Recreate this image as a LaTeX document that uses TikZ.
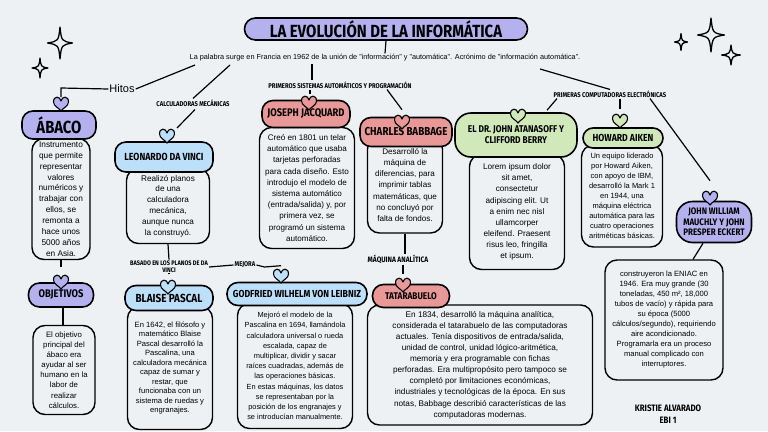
\documentclass[tikz,border=0pt]{standalone}
\usepackage{fontspec}
\setmainfont{Liberation Sans}
\newfontfamily\hand[FakeStretch=0.85]{Fira Sans}
\usetikzlibrary{calc}
\definecolor{bg}{RGB}{238,241,243}
\definecolor{pur}{RGB}{181,176,238}
\definecolor{blu}{RGB}{189,224,250}
\definecolor{pnk}{RGB}{232,152,150}
\definecolor{grn}{RGB}{208,232,186}
\tikzset{
  pill/.style={draw=black, line width=1.6pt, rounded corners=11pt, inner sep=1pt, align=center, font=\hand\bfseries},
  bodybox/.style={draw=black, line width=1.4pt, rounded corners=12pt, fill=bg, inner sep=0pt, align=center},
  conn/.style={draw=black, line width=1.2pt},
  lbl/.style={font=\hand\bfseries\fontsize{6.9}{7.2}\selectfont, inner sep=1pt, align=center},
  starline/.style={draw=black, line width=1.3pt, line join=round},
  pics/heart/.style={code={\draw[fill=#1, line width=1.1pt, line join=round]
     (0,-3) .. controls (-1,-8) and (-7.5,-8.5) .. (-7.5,-2) .. controls (-7.5,2) and (-2,4) .. (0,7)
     .. controls (2,4) and (7.5,2) .. (7.5,-2) .. controls (7.5,-8.5) and (1,-8) .. (0,-3) -- cycle;}}
}
\newcommand\sparkle[4]{\draw[starline] ({#1},{#2-#4}) .. controls ({#1+0.12*#3},{#2-0.12*#4}) .. ({#1+#3},{#2})
  .. controls ({#1+0.12*#3},{#2+0.12*#4}) .. ({#1},{#2+#4})
  .. controls ({#1-0.12*#3},{#2+0.12*#4}) .. ({#1-#3},{#2})
  .. controls ({#1-0.12*#3},{#2-0.12*#4}) .. cycle;}
\newcommand\fs[2]{\fontsize{#1}{#2}\selectfont}
\begin{document}
\begin{tikzpicture}[x=1pt,y=-1pt]
\fill[bg] (0,0) rectangle (768,431);
\useasboundingbox (0,0) rectangle (768,431);

% stars
\sparkle{60}{43}{12.5}{16}
\sparkle{40}{68}{8}{10}
\sparkle{711}{35}{13.5}{17}
\sparkle{681}{42}{6.5}{8.5}
\sparkle{731}{55}{9.5}{10}

% title
\node[pill, fill=pur, minimum width=283pt, minimum height=22pt, font=\hand\bfseries\fs{17.6}{18}] (title) at (386,29) {LA EVOLUCIÓN DE LA INFORMÁTICA};
\node[inner sep=1pt, font=\fs{7.3}{8}] (sub) at (385,58) {La palabra surge en Francia en 1962 de la unión de "información" y "automática". Acrónimo de "información automática".};
\draw[conn] (title.south) -- (sub.north);
\coordinate (s1) at (195,65);
\coordinate (s2) at (230,65);
\coordinate (s3) at (312,64);
\coordinate (s4) at (540,69);

% labels
\node[inner sep=1pt, font=\fs{11}{12}] (hitos) at (122,89) {Hitos};
\node[lbl] (calc) at (193,103) {CALCULADORAS MECÁNICAS};
\node[lbl] (prim) at (340,85) {PRIMEROS SISTEMAS AUTOMÁTICOS Y PROGRAMACIÓN};
\node[lbl] (elec) at (610,94) {PRIMERAS COMPUTADORAS ELECTRÓNICAS};
\node[lbl, font=\hand\bfseries\fs{6.6}{7.4}] (basado) at (169,267) {BASADO EN LOS PLANOS DE DA\\VINCI};
\node[lbl] (mejora) at (245,265) {MEJORA};
\node[lbl, font=\hand\bfseries\fs{7.8}{8}] (maq) at (398,259) {MÁQUINA ANALÍTICA};

% body boxes
\node[bodybox, minimum width=58pt, minimum height=121pt, font=\fs{8.3}{10.9}] (abB) at (61,199) {Instrumento\\que permite\\representar\\valores\\numéricos y\\trabajar con\\ellos, se\\remonta a\\hace unos\\5000 años\\en Asia.};
\node[bodybox, minimum width=62pt, minimum height=89pt, font=\fs{7.8}{10.1}] (obB) at (64,370) {El objetivo\\principal del\\ábaco era\\ayudar al ser\\humano en la\\labor de\\realizar\\cálculos.};
\node[bodybox, minimum width=83pt, minimum height=75pt, font=\fs{8.2}{10.8}] (leB) at (168,206) {Realizó planos\\de una\\calculadora\\mecánica,\\aunque nunca\\la construyó.};
\node[bodybox, minimum width=85pt, minimum height=123pt, font=\fs{7.6}{9.5}] (paB) at (170,368) {En 1642, el filósofo y\\matemático Blaise\\Pascal desarrolló la\\Pascalina, una\\calculadora mecánica\\capaz de sumar y\\restar, que\\funcionaba con un\\sistema de ruedas y\\engranajes.};
\node[bodybox, minimum width=115pt, minimum height=125pt, font=\fs{7.4}{10.2}] (lzB) at (295,366) {Mejoró el modelo de la\\Pascalina en 1694, llamándola\\calculadora universal o rueda\\escalada, capaz de\\multiplicar, dividir y sacar\\raíces cuadradas, además de\\las operaciones básicas.\\En estas máquinas, los datos\\se representaban por la\\posición de los engranajes y\\se introducían manualmente.};
\node[bodybox, minimum width=95pt, minimum height=121pt, font=\fs{8.1}{11.2}] (jaB) at (307,188) {Creó en 1801 un telar\\automático que usaba\\tarjetas perforadas\\para cada diseño. Esto\\introdujo el modelo de\\sistema automático\\(entrada/salida) y, por\\primera vez, se\\programó un sistema\\automático.};
\node[bodybox, minimum width=75pt, minimum height=96pt, font=\fs{8.1}{11.2}] (baB) at (405,185) {Desarrolló la\\máquina de\\diferencias, para\\imprimir tablas\\matemáticas, que\\no concluyó por\\falta de fondos.};
\node[bodybox, minimum width=225pt, minimum height=120pt, font=\fs{8.2}{11.1}] (taB) at (480,365) {En 1834, desarrolló la máquina analítica,\\considerada el tatarabuelo de las computadoras\\actuales. Tenía dispositivos de entrada/salida,\\unidad de control, unidad lógico-aritmética,\\memoria y era programable con fichas\\perforadas. Era multipropósito pero tampoco se\\completó por limitaciones económicas,\\industriales y tecnológicas de la época. En sus\\notas, Babbage describió características de las\\computadoras modernas.};
\node[bodybox, minimum width=95pt, minimum height=115pt, font=\fs{8.2}{11.1}] (atB) at (517,212) {Lorem ipsum dolor\\sit amet,\\consectetur\\adipiscing elit. Ut\\a enim nec nisl\\ullamcorper\\eleifend. Praesent\\risus leo, fringilla\\et ipsum.};
\node[bodybox, minimum width=81pt, minimum height=102pt, font=\fs{7.5}{10}] (aiB) at (622,196) {Un equipo liderado\\por Howard Aiken,\\con apoyo de IBM,\\desarrolló la Mark 1\\en 1944, una\\máquina eléctrica\\automática para las\\cuatro operaciones\\aritméticas básicas.};
\node[bodybox, minimum width=118pt, minimum height=120pt, font=\fs{7.6}{10}] (enB) at (664,320) {construyeron la ENIAC en\\1946. Era muy grande (30\\toneladas, 450 m², 18,000\\tubos de vacío) y rápida para\\su época (5000\\cálculos/segundo), requiriendo\\aire acondicionado.\\Programarla era un proceso\\manual complicado con\\interruptores.};

% pills
\node[pill, fill=pur, minimum width=74pt, minimum height=28pt, font=\hand\bfseries\fs{17.5}{18}] (abaco) at (59,125) {ÁBACO};
\node[pill, fill=pur, minimum width=65pt, minimum height=24pt, font=\hand\bfseries\fs{11}{12}] (obj) at (61,295) {OBJETIVOS};
\node[pill, fill=blu, minimum width=98pt, minimum height=30pt, font=\hand\bfseries\fs{10.3}{11}] (leo) at (164,157) {LEONARDO DA VINCI};
\node[pill, fill=blu, minimum width=88pt, minimum height=25pt, font=\hand\bfseries\fs{11.7}{12}] (pas) at (169,298) {BLAISE PASCAL};
\node[pill, fill=blu, minimum width=140pt, minimum height=23pt, font=\hand\bfseries\fs{10.2}{11}] (lei) at (297,294) {GODFRIED WILHELM VON LEIBNIZ};
\node[pill, fill=pnk, minimum width=88pt, minimum height=27pt, font=\hand\bfseries\fs{11}{12}] (jac) at (306,114) {JOSEPH JACQUARD};
\node[pill, fill=pnk, minimum width=92pt, minimum height=29pt, font=\hand\bfseries\fs{11.5}{12}] (bab) at (406,132) {CHARLES BABBAGE};
\node[pill, fill=pnk, minimum width=77pt, minimum height=23pt, font=\hand\bfseries\fs{9.7}{10}] (tat) at (411,296) {TATARABUELO};
\node[pill, fill=grn, minimum width=122pt, minimum height=44pt, rounded corners=16pt, font=\hand\bfseries\fs{9.8}{11}] (ata) at (516,135) {EL DR. JOHN ATANASOFF Y\\CLIFFORD BERRY};
\node[pill, fill=grn, minimum width=80pt, minimum height=20pt, rounded corners=10pt, font=\hand\bfseries\fs{10.2}{10}] (aik) at (623,138) {HOWARD AIKEN};
\node[pill, fill=pur, minimum width=75pt, minimum height=41pt, rounded corners=16pt, font=\hand\bfseries\fs{9.4}{10.3}] (mau) at (714,222) {JOHN WILLIAM\\MAUCHLY Y JOHN\\PRESPER ECKERT};

% author
\node[font=\hand\bfseries\fs{9.3}{12}, align=center, inner sep=1pt] (author) at (668,414) {KRISTIE ALVARADO\\EBI 1};

% connectors
\draw[conn] (hitos.west) -- (61,88) -- (61,97);
\draw[conn] (hitos.east) -- (s1);
\draw[conn] (s2) -- (calc.north);
\draw[conn] ($(calc.south)+(2,2)$) -- (177,128);
\draw[conn] (s3) -- (prim.north -| s3);
\draw[conn] (prim.south -| 310,0) -- ($(jac.north)+(4,-6)$);
\draw[conn] (prim.south -| 387,0) -- ($(bab.north)+(-4,-7)$);
\draw[conn] (s4) -- (elec.north);
\draw[conn] (elec.south -| 557,0) -- ($(ata.north)+(31,-2)$);
\draw[conn] (elec.south -| 620,0) -- ($(aik.north)+(-3,-18)$);
\draw[conn] (elec.south -| 650,0) -- ($(mau.north)+(-4,-20)$);
\draw[conn] (abB.south) -- ($(obj.north)+(0,-15)$);
\draw[conn] (obj.south -| 63,0) -- (obB.north -| 63,0);
\draw[conn] (leB.south) -- (basado.north);
\draw[conn] (basado.south) -- ($(pas.north)+(0,-12)$);
\draw[conn] (basado.east) -- (mejora.west);
\draw[conn] (mejora.east) -- ($(mejora.east)+(8,2)$) -- ($(lei.north)+(-16,-16)$);
\draw[conn] (baB.south) -- (maq.north -| baB.south);
\draw[conn] (maq.south -| 403,0) -- ($(tat.north)+(-8,-10)$);
\draw[conn] ($(mau.south)+(-11,0)$) -- ($(enB.north)+(29,0)$);

% hearts
\pic at (61,104) {heart=pur};
\pic at (61,282) {heart=pur};
\pic at (167,136) {heart=blu};
\pic at (168,287) {heart=blu};
\pic at (281,276) {heart=blu};
\pic at (309,103) {heart=pnk};
\pic at (402,122) {heart=pnk};
\pic at (403,285) {heart=pnk};
\pic at (518,116) {heart=grn};
\pic at (620,121) {heart=grn};
\pic at (710,198) {heart=pur};
\end{tikzpicture}
\end{document}
